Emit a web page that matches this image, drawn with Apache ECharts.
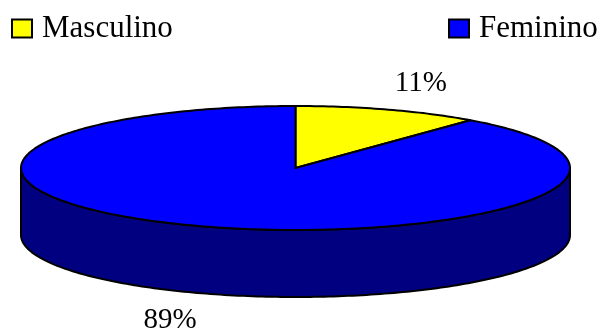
<!DOCTYPE html>
<html>
<head>
<meta charset="utf-8">
<script src="https://cdn.jsdelivr.net/npm/echarts@6/dist/echarts.min.js"></script>
<style>html,body{margin:0;padding:0;background:#fff}#c{width:600px;height:328px}</style>
</head>
<body>
<div id="c"></div>
<script>
const categories = ['Masculino', 'Feminino'];
const values = [11, 89];
const labels = ['11%', '89%'];
const topColors = ['#FFFF00', '#0000FF'];
const sideColors = ['#808000', '#000080'];

const CX = 295.5, CY = 168, RX = 274.5, RY = 62, DEPTH = 67;
const LRX = 370, LRY = 90;
const FONT = '29px "Liberation Serif", "Times New Roman", serif';

const total = values.reduce((a, b) => a + b, 0);
function pt(t, dy) { return [CX + RX * Math.sin(t), CY - RY * Math.cos(t) + (dy || 0)]; }
function arc(a0, a1, dy) {
  const pts = [];
  const n = Math.max(2, Math.ceil((a1 - a0) / (Math.PI / 180)));
  for (let k = 0; k <= n; k++) pts.push(pt(a0 + (a1 - a0) * k / n, dy));
  return pts;
}

function makeRender(i) {
  return function () {
    const before = values.slice(0, i).reduce((a, b) => a + b, 0);
    const a0 = before / total * 2 * Math.PI;
    const a1 = (before + values[i]) / total * 2 * Math.PI;
    const children = [];
    const s = Math.max(a0, Math.PI / 2), e = Math.min(a1, 3 * Math.PI / 2);
    if (e > s) {
      const pts = arc(s, e, 0).concat(arc(s, e, DEPTH).reverse());
      children.push({ type: 'polygon', shape: { points: pts }, z2: 1,
        style: { fill: sideColors[i], stroke: '#000', lineWidth: 2, lineJoin: 'round' } });
    }
    const topPts = [[CX, CY]].concat(arc(a0, a1, 0));
    children.push({ type: 'polygon', shape: { points: topPts }, z2: 10,
      style: { fill: topColors[i], stroke: '#000', lineWidth: 2, lineJoin: 'round' } });
    const m = (a0 + a1) / 2;
    const lx = CX + LRX * Math.sin(m);
    const ly = CY - LRY * Math.cos(m) + (Math.cos(m) < 0 ? DEPTH + 1 : 0);
    children.push({ type: 'text', x: lx, y: ly, z2: 20,
      style: { text: labels[i], font: FONT, fill: '#000', align: 'center', verticalAlign: 'middle' } });
    return { type: 'group', children };
  };
}

function legendFor(name, left) {
  return { data: [name], left: left, top: 13, padding: 0, icon: 'rect', itemWidth: 20, itemHeight: 18,
    itemStyle: { borderColor: '#000', borderWidth: 2 },
    textStyle: { fontFamily: 'Liberation Serif', fontSize: 31, color: '#000', padding: [0, 0, 0, 5] },
    selectedMode: false };
}

const chart = echarts.init(document.getElementById('c'), null, { renderer: 'canvas' });
chart.setOption({
  animation: false,
  backgroundColor: '#fff',
  legend: [legendFor(categories[0], 11), legendFor(categories[1], 448)],
  series: categories.map((name, i) => ({
    type: 'custom',
    name: name,
    coordinateSystem: 'none',
    silent: true,
    itemStyle: { color: topColors[i] },
    data: [[values[i]]],
    renderItem: makeRender(i)
  }))
});
</script>
</body>
</html>
